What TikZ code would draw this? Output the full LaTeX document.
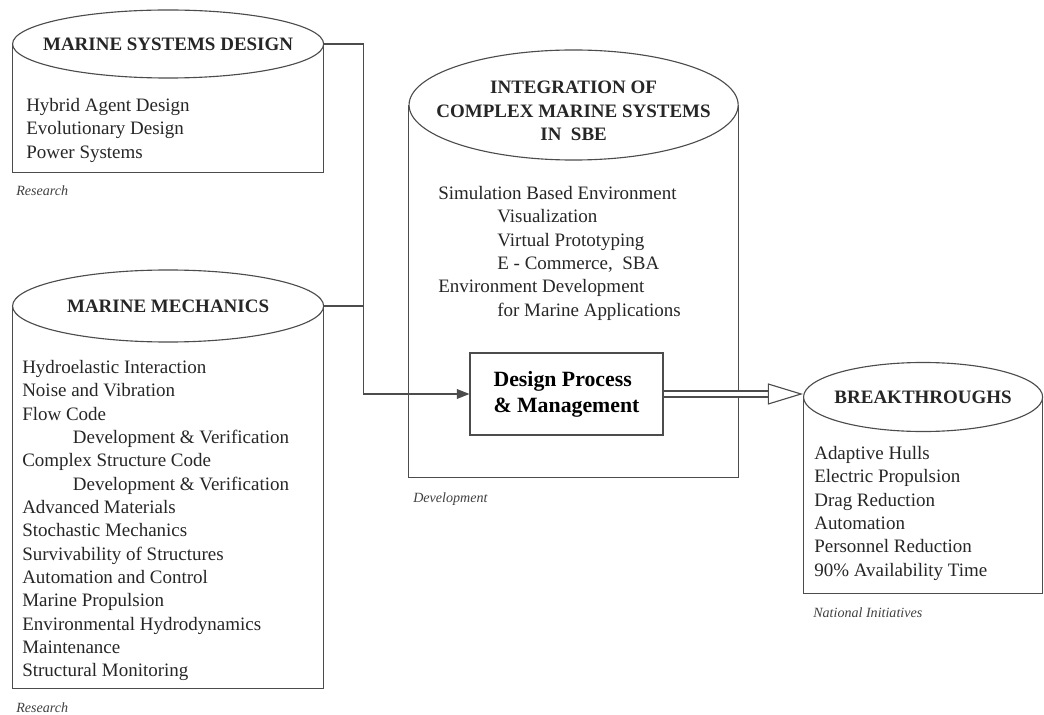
\documentclass[tikz,border=0pt]{standalone}
\usepackage{fontspec}
\setmainfont{Liberation Serif}
\usetikzlibrary{positioning,shapes.geometric,arrows.meta}

\begin{document}
\begin{tikzpicture}[x=0.025cm, y=-0.025cm,
 line/.style={draw=black!70, line width=0.8pt},
 body/.style={line, rectangle, anchor=north west, inner sep=0pt},
 lid/.style={line, ellipse, fill=white, inner sep=0pt},
 head/.style={font=\fontsize{13.5}{16.7}\selectfont\bfseries, align=center, text=black!85},
 items/.style={font=\fontsize{13.5}{16.6}\selectfont, align=left, anchor=north west, inner sep=0pt, text=black!85},
 tag/.style={font=\fontsize{10}{12}\selectfont\itshape, inner sep=0pt, text=black!75}]
 \useasboundingbox (0,0) rectangle (1044,715);

 % research boxes
 \node (msdbody) [body, minimum width=7.775cm, minimum height=3.2cm] at (12,44) {};
 \node (msdlid)  [lid, minimum width=7.775cm, minimum height=1.7cm,
   label={[head]center:MARINE SYSTEMS DESIGN}] at (msdbody.north) {};
 \node (msdlist) [items] at (26,98) {Hybrid Agent Design\\Evolutionary Design\\Power Systems};
 \node (msdtag)  [tag, below right=0.3cm and 0.1cm of msdbody.south west] {Research};

 \node (mmbody) [body, minimum width=7.775cm, minimum height=9.55cm] at (12,306) {};
 \node (mmlid)  [lid, minimum width=7.775cm, minimum height=1.8cm,
   label={[head]center:MARINE MECHANICS}] at (mmbody.north) {};
 \node (mmlist) [items] at (22,360) {Hydroelastic Interaction\\
   Noise and Vibration\\
   Flow Code\\
   \hspace*{36pt}Development \& Verification\\
   Complex Structure Code\\
   \hspace*{36pt}Development \& Verification\\
   Advanced Materials\\
   Stochastic Mechanics\\
   Survivability of Structures\\
   Automation and Control\\
   Marine Propulsion\\
   Environmental Hydrodynamics\\
   Maintenance\\
   Structural Monitoring};
 \node (mmtag) [tag, below right=0.33cm and 0.1cm of mmbody.south west] {Research};

 % development
 \node (intbody) [body, minimum width=8.25cm, minimum height=9.3cm] at (408,105) {};
 \node (intlid)  [lid, minimum width=8.225cm, minimum height=2.75cm,
   label={[head, yshift=-0.15cm]center:INTEGRATION OF\\COMPLEX MARINE SYSTEMS\\IN\ \ SBE}] at (intbody.north) {};
 \node (intlist) [items] at (438,186) {Simulation Based Environment\\
   \hspace*{42pt}Visualization\\
   \hspace*{42pt}Virtual Prototyping\\
   \hspace*{42pt}E - Commerce,\ \ SBA\\
   Environment Development\\
   \hspace*{42pt}for Marine Applications};
 \node (inttag) [tag, below right=0.35cm and 0.125cm of intbody.south west] {Development};

 \node (dp) [line, rectangle, minimum width=4.825cm, minimum height=2.05cm,
   font=\fontsize{15.5}{18.5}\selectfont\bfseries, align=left] at (566.5,394) {Design Process\\\& Management};

 % national initiatives
 \node (btbody) [body, minimum width=5.975cm, minimum height=4.9cm] at (803,397) {};
 \node (btlid)  [lid, minimum width=5.975cm, minimum height=1.725cm,
   label={[head]center:BREAKTHROUGHS}] at (btbody.north) {};
 \node (btlist) [items] at (814,446) {Adaptive Hulls\\Electric Propulsion\\Drag Reduction\\Automation\\Personnel Reduction\\90\% Availability Time};
 \node (bttag) [tag, below right=0.33cm and 0.25cm of btbody.south west] {National Initiatives};

 \coordinate [right=0.975cm of msdlid.east] (bend);
 \draw [line, -{Triangle[length=9pt,width=7pt]}] (msdlid.east) -- (bend) |- (dp.west);
 \draw [line] (mmlid.east) -- (mmlid.east -| bend);
 \draw [line, double, double distance=3.5pt, -{Triangle[open,length=25pt,width=15pt]}] (dp.east) -- (dp.east -| btlid.west);
\end{tikzpicture}
\end{document}
